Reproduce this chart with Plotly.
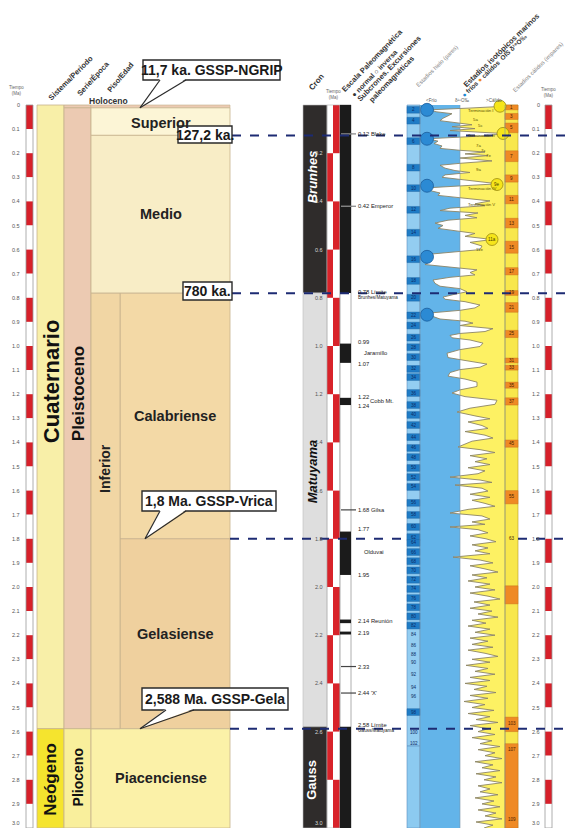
import plotly.graph_objects as go

PAGE_W, PAGE_H = 575, 828
BODY = 8                      # default page margin around the plot div
W, H = PAGE_W - BODY, PAGE_H - BODY
PX0 = 105.0      # page pixel row of t = 0
PXMA = 241.0     # pixels per Ma

FONT = "Liberation Sans, Arial, sans-serif"
NARROW = "Liberation Sans Narrow, Arial Narrow, Liberation Sans, sans-serif"


def T(p):
    """page pixel row -> time (used only for layout items above the columns)"""
    return (p - PX0) / PXMA


Y_TOP = T(BODY)
Y_BOT = T(PAGE_H)

# ---------------------------------------------------------------- data
scale_ticks = [0.0, 0.1, 0.2, 0.3, 0.4, 0.5, 0.6, 0.7, 0.8, 0.9, 1.0, 1.1, 1.2, 1.3, 1.4,
               1.5, 1.6, 1.7, 1.8, 1.9, 2.0, 2.1, 2.2, 2.3, 2.4, 2.5, 2.6, 2.7, 2.8, 2.9, 3.0]
scale_labels = ["0", "0.1", "0.2", "0.3", "0.4", "0.5", "0.6", "0.7", "0.8", "0.9", "1.0", "1.1",
                "1.2", "1.3", "1.4", "1.5", "1.6", "1.7", "1.8", "1.9", "2.0", "2.1", "2.2", "2.3",
                "2.4", "2.5", "2.6", "2.7", "2.8", "2.9", "3.0"]

period_names = ["Cuaternario", "Neógeno"]
period_top = [0.0, 2.588]
period_base = [2.588, 3.0]

epoch_names = ["Holoceno", "Pleistoceno", "Plioceno"]
epoch_top = [0.0, 0.0117, 2.588]
epoch_base = [0.0117, 2.588, 3.0]

subepoch_names = ["Inferior"]
subepoch_top = [0.781]
subepoch_base = [2.588]

age_names = ["Superior", "Medio", "Calabriense", "Gelasiense", "Piacenciense"]
age_top = [0.0117, 0.126, 0.781, 1.8, 2.588]
age_base = [0.126, 0.781, 1.8, 2.588, 3.0]

chron_names = ["Brunhes", "Matuyama", "Gauss"]
chron_top = [0.0, 0.78, 2.58]
chron_base = [0.78, 2.58, 3.0]
chron_ticks = [0.2, 0.4, 0.6, 0.8, 1.0, 1.2, 1.4, 1.6, 1.8, 2.0, 2.2, 2.4, 2.6, 3.0]
chron_tick_labels = ["0.2", "0.4", "0.6", "0.8", "1.0", "1.2", "1.4", "1.6", "1.8", "2.0",
                     "2.2", "2.4", "2.6", "3.0"]
cron_bar_edges = [0.0, 0.2, 0.4, 0.6, 0.8, 1.0, 1.2, 1.4, 1.6, 1.8, 2.0, 2.2, 2.4, 2.6, 2.8, 3.0]

normal_top = [0.0, 0.99, 1.215, 1.77, 2.135, 2.185, 2.58]
normal_base = [0.78, 1.07, 1.245, 1.95, 2.15, 2.197, 3.0]
excursion_t = [0.12, 0.42, 1.68, 2.33, 2.44]

pm_text = ["0.12 Blake", "0.42 Emperor", "0.78 Límite", "Brunhes/Matuyama", "0.99", "Jaramillo",
           "1.07", "1.22", "1.24", "Cobb Mt.", "1.68 Gilsa", "1.77", "Olduvai", "1.95",
           "2.14 Reunión", "2.19", "2.33", "2.44 'X'", "2.58 Límite", "Gauss/Matuyama"]
pm_t = [0.12, 0.42, 0.775, 0.80, 0.985, 1.03, 1.075, 1.212, 1.247, 1.228, 1.68, 1.758, 1.855,
        1.95, 2.14, 2.19, 2.33, 2.44, 2.572, 2.594]

even_stage = [2, 4, 6, 8, 10, 12, 14, 16, 18, 20, 22, 24, 26, 28, 30, 32, 34, 36, 38, 40, 42, 44,
              46, 48, 50, 52, 54, 56, 58, 60, 62, 64, 66, 68, 70, 72, 74, 76, 78, 80, 82, 84, 86,
              88, 90, 92, 94, 96, 98, 100, 102]
even_mid = [0.02, 0.065, 0.15, 0.26, 0.345, 0.435, 0.53, 0.64, 0.73, 0.80, 0.873, 0.915, 0.965,
            1.005, 1.046, 1.095, 1.129, 1.195, 1.245, 1.286, 1.328, 1.378, 1.423, 1.461, 1.506,
            1.544, 1.585, 1.651, 1.701, 1.751, 1.793, 1.817, 1.855, 1.893, 1.931, 1.97, 2.008,
            2.046, 2.084, 2.122, 2.16, 2.199, 2.241, 2.282, 2.315, 2.365, 2.419, 2.456, 2.519,
            2.602, 2.651]
even_pale = [84, 86, 88, 90, 92, 94, 96, 100, 102]

odd_label = ["1", "3", "5", "7", "9", "11", "13", "15", "17", "19", "21", "25", "31", "33", "35",
             "37", "45", "55", "", "103", "107"]
odd_top = [0.0, 0.035, 0.075, 0.19, 0.29, 0.375, 0.47, 0.565, 0.675, 0.77, 0.82, 0.935, 1.05,
           1.08, 1.15, 1.215, 1.39, 1.60, 1.995, 2.54, 2.65]
odd_base = [0.02, 0.06, 0.115, 0.235, 0.32, 0.41, 0.51, 0.615, 0.705, 0.79, 0.86, 0.965, 1.07,
            1.10, 1.175, 1.245, 1.42, 1.655, 2.07, 2.60, 3.0]
odd_free_label = ["63", "109"]
odd_free_t = [1.80, 2.965]

# benthic d18O curve, plotted as departure from the column centre line (negative = colder)
curve_t = [0.000, 0.007, 0.013, 0.020, 0.028, 0.036, 0.045, 0.055, 0.065, 0.074, 0.082, 0.090,
           0.098, 0.106, 0.118, 0.127, 0.133, 0.140, 0.150, 0.160, 0.170, 0.180, 0.188, 0.195,
           0.203, 0.210, 0.220, 0.232, 0.242, 0.250, 0.262, 0.272, 0.280, 0.290, 0.300, 0.315,
           0.327, 0.337, 0.345, 0.355, 0.365, 0.375, 0.385, 0.398, 0.410, 0.418, 0.428, 0.438,
           0.448, 0.458, 0.468, 0.478, 0.490, 0.500, 0.512, 0.522, 0.533, 0.545, 0.558, 0.570,
           0.585, 0.600, 0.610, 0.622, 0.638, 0.650, 0.662, 0.672, 0.684, 0.695, 0.705, 0.715,
           0.726, 0.740, 0.752, 0.762, 0.775, 0.785, 0.797, 0.806, 0.816, 0.830, 0.842, 0.852,
           0.863, 0.876, 0.888, 0.897, 0.905, 0.915, 0.928, 0.940, 0.948, 0.956, 0.966, 0.975,
           0.988, 1.002, 1.015, 1.030, 1.048, 1.060, 1.075, 1.088, 1.098, 1.110, 1.125, 1.137,
           1.150, 1.168, 1.182, 1.195, 1.210, 1.225, 1.242, 1.258, 1.274, 1.290, 1.302, 1.315,
           1.330, 1.342, 1.355, 1.370, 1.382, 1.395, 1.408, 1.419, 1.430, 1.442, 1.455, 1.468,
           1.480, 1.492, 1.505, 1.518, 1.530, 1.544, 1.556, 1.566, 1.577, 1.590, 1.602, 1.615,
           1.628, 1.640, 1.652, 1.665, 1.678, 1.693, 1.705, 1.718, 1.730, 1.740, 1.751, 1.762,
           1.775, 1.788, 1.800, 1.812, 1.825, 1.838, 1.850, 1.862, 1.876, 1.888, 1.900, 1.912,
           1.925, 1.938, 1.950, 1.962, 1.975, 1.988, 2.000, 2.012, 2.025, 2.038, 2.050, 2.062,
           2.075, 2.088, 2.100, 2.112, 2.125, 2.138, 2.150, 2.162, 2.175, 2.188, 2.200, 2.212,
           2.225, 2.238, 2.250, 2.262, 2.275, 2.288, 2.300, 2.312, 2.325, 2.338, 2.350, 2.362,
           2.375, 2.388, 2.400, 2.412, 2.425, 2.438, 2.450, 2.462, 2.475, 2.488, 2.500, 2.512,
           2.525, 2.538, 2.550, 2.562, 2.575, 2.588, 2.600, 2.612, 2.625, 2.638, 2.650, 2.662,
           2.675, 2.688, 2.700, 2.712, 2.725, 2.738, 2.750, 2.762, 2.775, 2.788, 2.800, 2.812,
           2.825, 2.838, 2.850, 2.862, 2.875, 2.888, 2.900, 2.912, 2.925, 2.938, 2.950, 2.962,
           2.975, 2.988, 3.000]
curve_d = [38, 36, 8, -30, -24, -8, -12, -17, -20, -4, 12, -8,
           15, -10, 42, 30, -4, -32, -22, -26, -18, -20, 0, 25,
           5, 28, 0, 32, 0, -20, -15, -5, 10, -15, -18, 15,
           38, -5, -38, -30, -20, -22, 0, 30, 15, 25, -10, -20,
           18, 5, 17, -12, -25, -17, -22, -5, 15, 5, 32, 10,
           22, 20, -5, -38, -40, -30, -35, -10, 17, 10, 15, -10,
           -27, -25, -20, 0, 7, -5, -17, -15, 5, 20, 15, 0,
           -30, -28, -20, 5, 13, 0, 33, 25, 0, -10, -8, 10,
           23, 20, 0, -13, -12, 5, 27, 20, 0, -10, -12, 5,
           17, 17, 0, -8, 5, 37, 35, 10, -3, 15, 30, 8,
           22, 28, 5, 25, 33, 12, 5, -2, 20, 35, 10, 27,
           15, 30, 8, 25, 18, -10, 20, 32, -5, 22, 28, 10,
           30, 12, 24, 35, 8, -10, 22, 30, 12, 25, -10, 18,
           28, 10, 26, 36, 12, 28, 15, 30, -7, 20, 33, 10,
           25, 38, 12, 27, 8, 30, 15, 35, 10, 28, 40, 14,
           30, 10, 32, 18, 38, 12, 26, 8, 30, 15, 35, 10,
           28, 12, 33, 8, 25, 38, 12, 30, 6, 28, 15, 35,
           10, 30, 5, 27, 14, 36, 10, 28, 4, 25, 12, 34,
           8, 30, 16, 38, 10, 28, 18, 35, 12, 32, 20, 40,
           18, 35, 25, 42, 15, 33, 22, 40, 16, 36, 24, 42,
           18, 30, 20, 38, 15, 34, 22, 40, 18, 36, 25, 42,
           16, 33, 24]

cold_marker_t = [0.02, 0.14, 0.335, 0.63, 0.87]
warm_marker_t = [0.005, 0.118, 0.33, 0.558]
warm_marker_d = [40, 43, 37, 32]
warm_marker_text = ["", "", "9e", "11a"]

event_text = ["Terminación I", "5a", "5c", "Terminación II", "7a", "7c", "7e", "9a",
              "Terminación IV", "Terminación V", "11e"]
event_t = [0.022, 0.060, 0.085, 0.128, 0.168, 0.188, 0.208, 0.268, 0.345, 0.412, 0.6]

# ---------------------------------------------------------------- layout helpers
COL = dict(lbar=(26, 33), sistema=(37, 64), serie=(64, 91), piso=(91, 230), inferior=(91, 120),
           cron=(303, 327), cb1=(327, 333), cb2=(333, 340), pol=(340, 351), ice=(407, 420),
           zb=(420, 460), zy=(460, 505), warm=(505, 518), rbar=(545, 552))

shapes = []
annos = []


def rect(col, t0, t1, fill, lc=None, lw=0, layer="below", x=None):
    x0, x1 = x if x else COL[col]
    shapes.append(dict(type="rect", xref="x", yref="y", x0=x0, x1=x1, y0=t0, y1=t1,
                       fillcolor=fill, line=dict(color=lc or fill, width=lw), layer=layer))


def seg(x0, x1, t0, t1, color, w=1.0, dash=None, layer="above"):
    shapes.append(dict(type="line", xref="x", yref="y", x0=x0, x1=x1, y0=t0, y1=t1,
                       line=dict(color=color, width=w, dash=dash), layer=layer))


def text(x, t, s, size, color="#222", angle=0, xanchor="center", family=FONT, yanchor="middle"):
    annos.append(dict(x=x, y=t, xref="x", yref="y", text=s, showarrow=False, textangle=angle,
                      xanchor=xanchor, yanchor=yanchor, font=dict(size=size, color=color, family=family)))


# ---------------------------------------------------------------- time scale bars
for bar, lab_x in (("lbar", 22), ("rbar", 542)):
    for i in range(len(scale_ticks) - 1):
        rect(bar, scale_ticks[i], scale_ticks[i + 1], "#d7202a" if i % 2 == 0 else "white")
    rect(bar, scale_ticks[0], scale_ticks[-1], "rgba(0,0,0,0)", lc="#9a9a9a", lw=0.8)
    for tk, lb in zip(scale_ticks, scale_labels):
        last = tk == scale_ticks[-1]
        text(lab_x, tk, lb, 5.5, "#555", xanchor="right", yanchor="bottom" if last else "middle")

# ---------------------------------------------------------------- chronostratigraphy
EDGE = "#c7b28e"
period_fill = ["#f8efa8", "#f5e42e"]
for n, a, b, c in zip(period_names, period_top, period_base, period_fill):
    rect("sistema", a, b, c, lc=EDGE, lw=0.8)
text(51, 1.15, "<b>Cuaternario</b>", 22, "#111", angle=-90)
text(51, 2.80, "<b>Neógeno</b>", 17, "#111", angle=-90)

epoch_fill = ["#eccab2", "#eccab2", "#f9ef9c"]
for n, a, b, c in zip(epoch_names, epoch_top, epoch_base, epoch_fill):
    rect("serie", a, b, c, lc=EDGE, lw=0.8)
text(78, 1.2, "<b>Pleistoceno</b>", 17, "#111", angle=-90)
text(78, 2.79, "<b>Plioceno</b>", 14, "#111", angle=-90)

rect("piso", epoch_top[0], epoch_base[0], "#eccab2", lc=EDGE, lw=0.6)
age_fill = ["#fcf5d6", "#f8edc6", "#f3d9a6", "#efd09e", "#fbf1a8"]
age_x = [COL["piso"], COL["piso"], (120, 230), (120, 230), COL["piso"]]
for n, a, b, c, xx in zip(age_names, age_top, age_base, age_fill, age_x):
    rect(None, a, b, c, lc=EDGE, lw=0.8, x=xx)
    text((xx[0] + xx[1]) / 2, (a + b) / 2 + (0.005 if n == "Superior" else 0), "<b>%s</b>" % n, 14.5, "#222")
for n, a, b in zip(subepoch_names, subepoch_top, subepoch_base):
    rect("inferior", a, b, "#f1d6a4", lc=EDGE, lw=0.8)
    text(105, 1.51, "<b>%s</b>" % n, 14, "#222", angle=-90)

# ---------------------------------------------------------------- chrons + magnetic polarity
chron_fill = ["#2f2c2b", "#dedede", "#2f2c2b"]
chron_txt = ["#ffffff", "#111111", "#ffffff"]
chron_mid = [0.30, 1.52, 2.80]
for n, a, b, c, tc, m in zip(chron_names, chron_top, chron_base, chron_fill, chron_txt, chron_mid):
    rect("cron", a, b, c, lc="#bdbdbd", lw=0.6)
    style = "<b><i>%s</i></b>" % n if n != "Gauss" else "<b>%s</b>" % n
    text(312, m, style, 13, tc, angle=-90)
for tk, lb in zip(chron_ticks, chron_tick_labels):
    dark = (tk < chron_base[0]) or (tk > chron_top[2])
    last = tk == chron_ticks[-1]
    text(325, tk, lb, 5.5, "#d8d8d8" if dark else "#555", xanchor="right",
         yanchor="bottom" if last else "middle")

for i in range(len(cron_bar_edges) - 1):
    col = "cb2" if i % 2 == 0 else "cb1"
    rect(col, cron_bar_edges[i], cron_bar_edges[i + 1], "#d8232a")
rect(None, 0, 3.0, "rgba(0,0,0,0)", lc="#b0b0b0", lw=0.6, x=(327, 340))

rect("pol", 0, 3.0, "white", lc="#9a9a9a", lw=0.8)
for a, b in zip(normal_top, normal_base):
    rect("pol", a, b, "#1b1b1b")
for et in excursion_t:
    inside = any(a <= et <= b for a, b in zip(normal_top, normal_base))
    seg(341, 351 if inside else 356, et, et, "#9a9a9a" if inside else "#444", w=1.2, layer="below")
    if inside:
        seg(351, 356, et, et, "#444", w=0.8, layer="below")

for s, t_ in zip(pm_text, pm_t):
    small = s in ("Brunhes/Matuyama", "Gauss/Matuyama")
    indent = 362 if s in ("Jaramillo", "Olduvai") else (368 if s == "Cobb Mt." else 356)
    text(indent, t_, s, 4.6 if small else 5.8, "#222", xanchor="left")

# ---------------------------------------------------------------- isotope stages columns
rect("ice", 0, 2.66, "#93cdf1", lc="#5b8fbf", lw=0.6)
rect("ice", 2.66, 3.0, "#8ccaf0", lc="#5b8fbf", lw=0.6)
rect("zb", 0, 3.0, "#63b4e9")
rect("zy", 0, 3.0, "#fdf163")
rect("warm", 0, 3.0, "#f8e74c", lc="#b79a2a", lw=0.6)

for st, m in zip(even_stage, even_mid):
    if st not in even_pale:
        rect("ice", m - 0.014, m + 0.014, "#1f7cc6", lc="#1c5f9c", lw=0.4)
    text(413.5, m, str(st), 4.6, "#0c2c66")

for lb, a, b in zip(odd_label, odd_top, odd_base):
    rect("warm", a, b, "#ef8a24", lc="#c0661a", lw=0.4)
    if lb:
        text(511.5, min((a + b) / 2, a + 0.025), lb, 4.6, "#4a2000")
for lb, t_ in zip(odd_free_label, odd_free_t):
    text(511.5, t_, lb, 4.6, "#4a2000")

# column separation lines (above the white curve fill)
for xx in (420, 460, 505):
    seg(xx, xx, 0, 3.0, "#7d95a8", w=0.6)

event_x = [466, 471, 476, 466, 474, 479, 484, 474, 466, 466, 474]
for s, t_, ex in zip(event_text, event_t, event_x):
    text(ex, t_, s, 4.3, "#5b5000", xanchor="left")

# ---------------------------------------------------------------- boundaries (dashed navy lines)
NAVY = "#1d2b73"
seg(232, 575, 0.127, 0.127, NAVY, 2, "dash")
seg(232, 575, 0.781, 0.781, NAVY, 2, "dash")
seg(230, 407, 1.8, 1.8, NAVY, 2, "dash")
seg(518, 575, 1.8, 1.8, NAVY, 2, "dash")
seg(230, 575, 2.588, 2.588, NAVY, 2, "dash")


# ---------------------------------------------------------------- call-out boxes
def callout(label, x0, x1, p0, p1, tip=None, base=None):
    rect(None, T(p0), T(p1), "white", lc="#2a2a2a", lw=1.4, layer="above", x=(x0, x1))
    if tip is not None:
        bx0, bx1 = base
        tx, tt = tip
        shapes.append(dict(type="path", xref="x", yref="y", layer="above",
                           path="M %f,%f L %f,%f L %f,%f Z" % (bx0, T(p1 - 1.2), tx, tt, bx1, T(p1 - 1.2)),
                           fillcolor="white", line=dict(width=0)))
        seg(bx0, tx, T(p1), tt, "#2a2a2a", 1.2)
        seg(bx1, tx, T(p1), tt, "#2a2a2a", 1.2)
    text((x0 + x1) / 2, T((p0 + p1) / 2), "<b>%s</b>" % label, 14, "#1a1a1a", family=NARROW)


callout("11,7 ka. GSSP-NGRIP", 143, 280, 60, 80, tip=(140, epoch_base[0]), base=(160, 186))
callout("127,2 ka.", 178, 232, 126, 143)
callout("780 ka.", 183, 232, 282, 300)
callout("1,8 Ma. GSSP-Vrica", 142, 276, 491, 511, tip=(145, age_top[3]), base=(160, 186))
callout("2,588 Ma. GSSP-Gela", 142, 288, 688, 710, tip=(140, period_base[0]), base=(166, 194))

# ---------------------------------------------------------------- headers
HC = "#333"
text(16, T(90), "Tiempo<br>(Ma)", 4.5, "#666")
text(70, T(78), "<b>Sistema/Periodo</b>", 7.5, HC, angle=-45)
text(93, T(78), "<b>Serie/Época</b>", 7.5, HC, angle=-48)
text(120, T(77), "<b>Piso/Edad</b>", 7.5, HC, angle=-50)
text(108, T(101), "<b>Holoceno</b>", 8.5, "#333")
text(316, T(82), "<b>Cron</b>", 8, HC, angle=-50)
text(333, T(94), "Tiempo<br>(Ma)", 4.5, "#666")
text(372, T(60), "<b>Escala Paleomagnética</b>", 7.5, HC, angle=-46)
text(374, T(73), "<b>● normal ○ inversa</b>", 7, HC, angle=-46)
text(389, T(68), "<b>Subcrones. Excursiones</b>", 7.5, HC, angle=-46)
text(391, T(79), "<b>paleomagnéticas</b>", 7.5, HC, angle=-46)
text(437, T(66), "Estadios hielo (pares)", 5.8, "#888", angle=-45)
text(501, T(50), "<b>Estadios isotópicos marinos</b>", 7.5, HC, angle=-44)
text(494, T(65), "<b><span style='color:#1e88d0'>●</span> fríos <span style='color:#ef8a24'>●</span> cálidos  OIS δ¹⁸O‰</b>",
     6.5, HC, angle=-44)
text(538, T(67), "Estadios cálidos (impares)", 5.8, "#888", angle=-45)
text(548, T(92), "Tiempo<br>(Ma)", 4.5, "#666")
text(431, T(100), "&lt;Frío", 4.5, "#555")
text(462, T(100), "δ¹⁸O‰", 4.5, "#555")
text(494, T(100), "&gt;Cálido", 4.5, "#555")

# ---------------------------------------------------------------- traces
fig = go.Figure()
fig.add_trace(go.Scatter(x=[0] * len(curve_t), y=curve_t, xaxis="x2", yaxis="y", mode="lines",
                         line=dict(width=0), hoverinfo="skip", showlegend=False))
fig.add_trace(go.Scatter(x=curve_d, y=curve_t, xaxis="x2", yaxis="y", mode="lines",
                         line=dict(color="#8c8466", width=0.9), fill="tonextx",
                         fillcolor="white", showlegend=False, hoverinfo="skip"))
fig.add_trace(go.Scatter(x=[-33] * len(cold_marker_t), y=cold_marker_t, xaxis="x2", yaxis="y",
                         mode="markers", cliponaxis=False,
                         marker=dict(size=13, color="#2b8ad4", line=dict(color="#1a5d9c", width=0.8)),
                         showlegend=False, hoverinfo="skip"))
fig.add_trace(go.Scatter(x=warm_marker_d, y=warm_marker_t, xaxis="x2", yaxis="y",
                         mode="markers", cliponaxis=False,
                         marker=dict(size=12, color="#f6e51a", line=dict(color="#9a8a10", width=0.8)),
                         showlegend=False, hoverinfo="skip"))
for d, t_, s in zip(warm_marker_d, warm_marker_t, warm_marker_text):
    if s:
        annos.append(dict(x=d, y=t_, xref="x2", yref="y", text=s, showarrow=False,
                          font=dict(size=4.5, color="#4a3c00", family=FONT)))

fig.update_layout(
    width=W, height=H, margin=dict(l=0, r=0, t=0, b=0),
    paper_bgcolor="white", plot_bgcolor="rgba(0,0,0,0)",
    xaxis=dict(range=[BODY, PAGE_W], visible=False, fixedrange=True, domain=[0, 1]),
    xaxis2=dict(range=[-40, 45], visible=False, fixedrange=True, anchor="y",
                domain=[(COL["zb"][0] - BODY) / W, (COL["zy"][1] - BODY) / W]),
    yaxis=dict(range=[Y_BOT, Y_TOP], visible=False, fixedrange=True, domain=[0, 1]),
    shapes=shapes, annotations=annos, showlegend=False,
    font=dict(family=FONT),
)

fig.write_html("out.html")
